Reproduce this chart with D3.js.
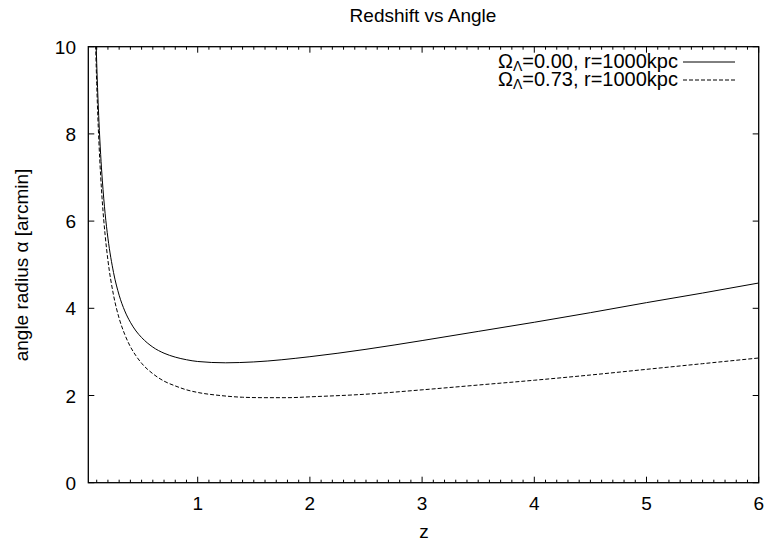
<!DOCTYPE html>
<html>
<head>
<meta charset="utf-8">
<script src="https://cdn.jsdelivr.net/npm/d3@7"></script>
<style>
  body { margin: 0; background: #fff; }
  svg { display: block; font-family: "Liberation Sans", Arial, sans-serif; }
  text { fill: #000; }
</style>
</head>
<body>
<svg id="chart" width="765" height="543"></svg>
<script>
// Values (z, angle radius in arcmin)
const zLambda0 = [0.09, 0.1, 0.11, 0.12, 0.135, 0.15, 0.175, 0.2, 0.25, 0.3, 0.35, 0.4, 0.45, 0.5, 0.6, 0.7, 0.8, 0.9, 1.0, 1.25, 1.5, 2.0, 2.5, 3.0, 3.5, 4.0, 4.5, 5.0, 5.5, 6.0]
const alphaLambda0 = [10.52, 9.62, 8.89, 8.28, 7.53, 6.94, 6.17, 5.61, 4.82, 4.30, 3.94, 3.68, 3.48, 3.33, 3.11, 2.97, 2.88, 2.82, 2.78, 2.75, 2.77, 2.89, 3.06, 3.26, 3.47, 3.68, 3.90, 4.13, 4.35, 4.58]

const zLambda73 = [0.085, 0.1, 0.11, 0.12, 0.135, 0.15, 0.175, 0.2, 0.25, 0.3, 0.35, 0.4, 0.45, 0.5, 0.6, 0.7, 0.8, 0.9, 1.0, 1.2, 1.4, 1.6, 1.8, 2.0, 2.5, 3.0, 3.5, 4.0, 4.5, 5.0, 5.5, 6.0]
const alphaLambda73 = [10.58, 9.15, 8.40, 7.79, 7.04, 6.44, 5.68, 5.10, 4.30, 3.77, 3.40, 3.12, 2.91, 2.74, 2.50, 2.33, 2.22, 2.13, 2.07, 2.00, 1.96, 1.95, 1.95, 1.97, 2.03, 2.13, 2.24, 2.35, 2.47, 2.60, 2.73, 2.86]

const xMajorTicks = [1, 2, 3, 4, 5, 6]
const yMajorTicks = [0, 2, 4, 6, 8, 10]
const legendLabels = [["0.00", "1000"], ["0.73", "1000"]]

const svg = d3.select("#chart")
const plotLeft = 88.3, plotRight = 758.7, plotTop = 46.7, plotBottom = 482.7
const fontSize = 19

const x = d3.scaleLinear().domain([0.025, 6]).range([plotLeft, plotRight])
const y = d3.scaleLinear().domain([0, 10]).range([plotBottom, plotTop])

svg.append("defs").append("clipPath").attr("id", "plot-clip")
  .append("rect")
  .attr("x", plotLeft).attr("y", plotTop)
  .attr("width", plotRight - plotLeft).attr("height", plotBottom - plotTop)

// minor x ticks every 0.1, on bottom and top (gnuplot mirror)
const xMinor = d3.range(1, 60).map(i => i / 10).filter(v => Math.abs(v - Math.round(v)) > 1e-6)

const tickG = svg.append("g").attr("stroke", "#000").attr("stroke-width", 1)
xMinor.forEach(v => {
  tickG.append("line").attr("x1", x(v)).attr("x2", x(v)).attr("y1", plotBottom).attr("y2", plotBottom - 3)
  tickG.append("line").attr("x1", x(v)).attr("x2", x(v)).attr("y1", plotTop).attr("y2", plotTop + 3)
})
xMajorTicks.forEach(v => {
  tickG.append("line").attr("x1", x(v)).attr("x2", x(v)).attr("y1", plotBottom).attr("y2", plotBottom - 6)
  tickG.append("line").attr("x1", x(v)).attr("x2", x(v)).attr("y1", plotTop).attr("y2", plotTop + 6)
})
yMajorTicks.forEach(v => {
  tickG.append("line").attr("x1", plotLeft).attr("x2", plotLeft + 6).attr("y1", y(v)).attr("y2", y(v))
  tickG.append("line").attr("x1", plotRight).attr("x2", plotRight - 6).attr("y1", y(v)).attr("y2", y(v))
})

// tick labels
svg.append("g").selectAll("text").data(xMajorTicks).join("text")
  .attr("x", d => x(d)).attr("y", 510)
  .attr("text-anchor", "middle").attr("font-size", fontSize)
  .text(d => d)
svg.append("g").selectAll("text").data(yMajorTicks).join("text")
  .attr("x", 76).attr("y", d => y(d) + 7)
  .attr("text-anchor", "end").attr("font-size", fontSize)
  .text(d => d)

// curves
const line = d3.line().x(d => x(d[0])).y(d => y(d[1])).curve(d3.curveMonotoneX)
const plotG = svg.append("g").attr("clip-path", "url(#plot-clip)")
plotG.append("path")
  .datum(d3.zip(zLambda0, alphaLambda0))
  .attr("d", line).attr("fill", "none").attr("stroke", "#000").attr("stroke-width", 1)
plotG.append("path")
  .datum(d3.zip(zLambda73, alphaLambda73))
  .attr("d", line).attr("fill", "none").attr("stroke", "#000").attr("stroke-width", 1)
  .attr("stroke-dasharray", "4,2")

// frame
svg.append("rect")
  .attr("x", plotLeft).attr("y", plotTop)
  .attr("width", plotRight - plotLeft).attr("height", plotBottom - plotTop)
  .attr("fill", "none").attr("stroke", "#000").attr("stroke-width", 1.3)

// legend
const legend = svg.append("g")
legendLabels.forEach((lab, i) => {
  const by = 68 + i * 18
  const t = legend.append("text")
    .attr("x", 678).attr("y", by)
    .attr("text-anchor", "end").attr("font-size", 20)
  t.append("tspan").text("\u03A9")
  t.append("tspan").attr("font-size", 14).attr("dy", 3).text("\u039B")
  t.append("tspan").attr("dy", -3).text(`=${lab[0]}, r=${lab[1]}kpc`)
  legend.append("line")
    .attr("x1", 683).attr("x2", 735).attr("y1", by - 6).attr("y2", by - 6)
    .attr("stroke", "#000").attr("stroke-width", 1)
    .attr("stroke-dasharray", i === 0 ? null : "4,2")
})

// titles
svg.append("text").attr("x", 423).attr("y", 22)
  .attr("text-anchor", "middle").attr("font-size", fontSize)
  .text("Redshift vs Angle")
svg.append("text").attr("x", 424).attr("y", 538)
  .attr("text-anchor", "middle").attr("font-size", fontSize)
  .text("z")
svg.append("text")
  .attr("transform", "translate(28,265) rotate(-90)")
  .attr("text-anchor", "middle").attr("font-size", fontSize)
  .text("angle radius \u03B1 [arcmin]")
</script>
</body>
</html>
